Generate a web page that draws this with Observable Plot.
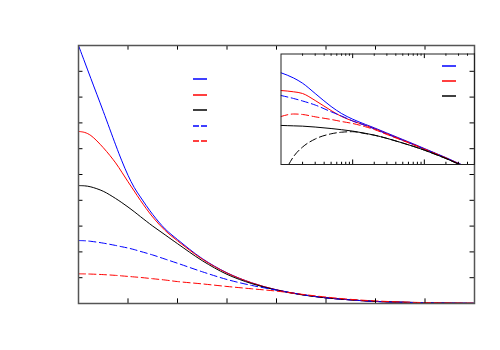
<!DOCTYPE html>
<html><head><meta charset="utf-8">
<script src="https://cdn.jsdelivr.net/npm/d3@7"></script>
<script src="https://cdn.jsdelivr.net/npm/@observablehq/plot@0.6"></script>
<style>
html,body{margin:0;padding:0;background:#fff;}
#wrap{position:relative;width:500px;height:350px;overflow:hidden;}
#wrap svg{position:absolute;left:0;top:0;}
.leg{position:absolute;}
</style></head><body><div id="wrap"></div>
<script>
// ---------- main panel data (linear axes) ----------
const mainX = [0,0.125,0.25,0.5,0.75,0.875,1,1.125,1.25,1.5,1.75,2,2.5,3,3.5,4,4.5,5,5.5,6,6.5,7,7.5,8];
const blueSolid  = [1.000,0.936,0.872,0.745,0.615,0.553,0.497,0.450,0.413,0.345,0.289,0.248,0.174,0.119,0.080,0.053,0.035,0.022,0.014,0.008,0.005,0.003,0.0015,0.0008];
const redSolid   = [0.667,0.663,0.651,0.604,0.545,0.509,0.472,0.436,0.400,0.335,0.283,0.243,0.172,0.118,0.080,0.053,0.035,0.022,0.014,0.008,0.005,0.003,0.0015,0.0008];
const blackSolid = [0.457,0.456,0.452,0.435,0.407,0.391,0.374,0.356,0.337,0.300,0.266,0.232,0.166,0.113,0.077,0.052,0.034,0.022,0.014,0.008,0.005,0.003,0.0015,0.0008];
const blueDashed = [0.244,0.2432,0.241,0.234,0.225,0.220,0.215,0.209,0.202,0.188,0.172,0.156,0.123,0.093,0.070,0.052,0.035,0.022,0.014,0.008,0.005,0.003,0.0015,0.0008];
const redDashed  = [0.115,0.1147,0.114,0.112,0.109,0.107,0.105,0.103,0.101,0.096,0.091,0.085,0.076,0.066,0.057,0.048,0.036,0.025,0.016,0.010,0.006,0.0035,0.002,0.001];
const mainXTicks = [0,1,2,3,4,5,6,7,8];
const mainYTicks = [0,0.1,0.2,0.3,0.4,0.5,0.6,0.7,0.8,0.9,1];

// ---------- inset data (log-log axes) ----------
const insetX = [0.1,0.15,0.2,0.3,0.5,0.7,1,1.5,2,3,5,7,10,15,20,30,50];
const inBlue      = [0.309,0.223,0.161,0.0847,0.0376,0.0242,0.0170,0.0123,0.00991,0.00716,0.00477,0.00365,0.00272,0.00195,0.00154,0.00108,0.00071];
const inRed       = [0.102,0.0941,0.0847,0.0546,0.0292,0.0201,0.0152,0.0116,0.00948,0.00686,0.00459,0.00353,0.00265,0.00191,0.00151,0.00106,0.00070];
const inBlueDash  = [0.0747,0.0619,0.0530,0.0412,0.0270,0.0207,0.0152,0.0115,0.00931,0.00673,0.00454,0.00349,0.00262,0.00190,0.00150,0.00105,0.00069];
const inRedDash   = [0.0201,0.0235,0.0228,0.0197,0.0167,0.0147,0.0130,0.0106,0.00891,0.00652,0.00446,0.00345,0.00258,0.00189,0.00149,0.00104,0.00068];
const inBlack     = [0.0115,0.0112,0.0110,0.0104,0.00948,0.00881,0.00807,0.00703,0.00628,0.00514,0.00383,0.00312,0.00246,0.00182,0.00146,0.00103,0.00068];
const inBlackDashX = [0.128,0.15,0.2,0.3,0.5,0.7,1,1.5,2,3,5,7,10,15,20,30,50];
const inBlackDash  = [0.001,0.00165,0.00298,0.00492,0.00681,0.00753,0.00777,0.00690,0.00624,0.00512,0.00381,0.00311,0.00245,0.00181,0.00145,0.00103,0.00068];
const insetMajor = [1,10];
const insetMinor = [0.2,0.3,0.4,0.5,0.6,0.7,0.8,0.9,2,3,4,5,6,7,8,9,20,30,40,50];

// ---------- series styling ----------
const mainSeries = [
  {name:"blueSolid", ys:blueSolid, color:"#0000ff", dash:null},
  {name:"redSolid", ys:redSolid, color:"#ff0000", dash:null},
  {name:"blackSolid", ys:blackSolid, color:"#000000", dash:null},
  {name:"blueDashed", ys:blueDashed, color:"#0000ff", dash:"7,3.5"},
  {name:"redDashed", ys:redDashed, color:"#ff0000", dash:"7,3.5"}
];
const insetSeries = [
  {name:"blue", xs:insetX, ys:inBlue, color:"#0000ff", dash:null},
  {name:"red", xs:insetX, ys:inRed, color:"#ff0000", dash:null},
  {name:"blueDash", xs:insetX, ys:inBlueDash, color:"#0000ff", dash:"7,3.5"},
  {name:"redDash", xs:insetX, ys:inRedDash, color:"#ff0000", dash:"7,3.5"},
  {name:"black", xs:insetX, ys:inBlack, color:"#000000", dash:null},
  {name:"blackDash", xs:inBlackDashX, ys:inBlackDash, color:"#000000", dash:"7,3.5"}
];

const W = 500, H = 350;
const wrap = document.getElementById("wrap");

// ---------- main plot ----------
const mainMarks = [];
for (const s of mainSeries) {
  const rows = mainX.map((x,i)=>({x, y:s.ys[i]}));
  mainMarks.push(Plot.line(rows, {x:"x", y:"y", stroke:s.color, strokeWidth:1, strokeDasharray:s.dash, curve:"catmull-rom"}));
}
mainMarks.push(
  Plot.ruleX(mainXTicks, {x:d=>d, y1:0, y2:0.018, stroke:"#000", strokeWidth:1}),
  Plot.ruleX(mainXTicks, {x:d=>d, y1:1, y2:0.982, stroke:"#000", strokeWidth:1}),
  Plot.ruleY(mainYTicks, {y:d=>d, x1:0, x2:0.09, stroke:"#000", strokeWidth:1}),
  Plot.ruleY(mainYTicks, {y:d=>d, x1:8, x2:7.91, stroke:"#000", strokeWidth:1}),
  Plot.frame({stroke:"#555", strokeWidth:1.5})
);
const mainPlot = Plot.plot({
  width:W, height:H,
  marginLeft:78, marginRight:26, marginTop:45, marginBottom:47,
  x:{domain:[0,8], axis:null},
  y:{domain:[0,1], axis:null},
  style:{background:"white"},
  marks:mainMarks
});
wrap.appendChild(mainPlot);

// ---------- inset plot ----------
const insetMarks = [];
for (const s of insetSeries) {
  const rows = s.xs.map((x,i)=>({x, y:s.ys[i]}));
  insetMarks.push(Plot.line(rows, {x:"x", y:"y", stroke:s.color, strokeWidth:1, strokeDasharray:s.dash, curve:"monotone-x", clip:true}));
}
insetMarks.push(
  Plot.ruleX(insetMajor, {x:d=>d, y1:1, y2:0.75, stroke:"#000", strokeWidth:1}),
  Plot.ruleX(insetMinor, {x:d=>d, y1:1, y2:0.87, stroke:"#000", strokeWidth:1}),
  Plot.ruleX(insetMajor, {x:d=>d, y1:0.001, y2:0.00133, stroke:"#000", strokeWidth:1}),
  Plot.ruleX(insetMinor, {x:d=>d, y1:0.001, y2:0.00115, stroke:"#000", strokeWidth:1}),
  Plot.frame({stroke:"#222", strokeWidth:1})
);
const insetPlot = Plot.plot({
  width:W, height:H,
  marginLeft:280.5, marginRight:26, marginTop:53.5, marginBottom:186,
  x:{type:"log", domain:[0.1,50.1], axis:null},
  y:{type:"log", domain:[0.001,1], axis:null},
  style:{background:"transparent"},
  marks:insetMarks
});
wrap.appendChild(insetPlot);

// ---------- key samples (labels absent in the reference) ----------
function swatch(left, top, color, dash) {
  const ns = "http://www.w3.org/2000/svg";
  const svg = document.createElementNS(ns, "svg");
  svg.setAttribute("width", 16); svg.setAttribute("height", 4);
  svg.setAttribute("class", "leg");
  svg.style.left = left + "px"; svg.style.top = top + "px";
  const ln = document.createElementNS(ns, "line");
  ln.setAttribute("x1", 1); ln.setAttribute("x2", 15);
  ln.setAttribute("y1", 2); ln.setAttribute("y2", 2);
  ln.setAttribute("stroke", color); ln.setAttribute("stroke-width", 1.5);
  if (dash) ln.setAttribute("stroke-dasharray", "6,2");
  svg.appendChild(ln);
  wrap.appendChild(svg);
}
const mainKey = [["#0000ff",null],["#ff0000",null],["#000000",null],["#0000ff","d"],["#ff0000","d"]];
mainKey.forEach((k,i)=>swatch(192, 77 + i*15.5, k[0], k[1]));
const insetKey = [["#0000ff",null],["#ff0000",null],["#000000",null]];
insetKey.forEach((k,i)=>swatch(441, 63.5 + i*15.2, k[0], k[1]));
</script>
</body></html>
